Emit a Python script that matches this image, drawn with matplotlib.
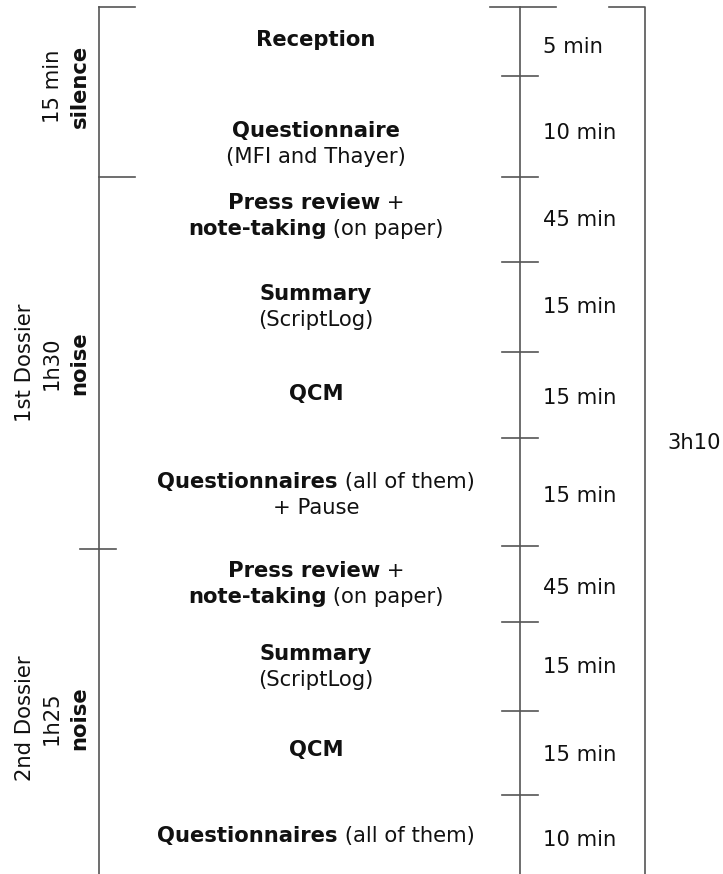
"""
Session timeline of the experiment: phases, activities and durations.
"""

import matplotlib.pyplot as plt
from matplotlib.offsetbox import AnnotationBbox, HPacker, TextArea, VPacker

# activities, each line is a list of (text, bold) pieces
activities = [
    [[('Reception', True)]],
    [[('Questionnaire', True)], [('(MFI and Thayer)', False)]],
    [[('Press review', True), (' +', False)],
     [('note-taking', True), (' (on paper)', False)]],
    [[('Summary', True)], [('(ScriptLog)', False)]],
    [[('QCM', True)]],
    [[('Questionnaires', True), (' (all of them)', False)], [('+ Pause', False)]],
    [[('Press review', True), (' +', False)],
     [('note-taking', True), (' (on paper)', False)]],
    [[('Summary', True)], [('(ScriptLog)', False)]],
    [[('QCM', True)]],
    [[('Questionnaires', True), (' (all of them)', False)]],
]
durations = ['5 min', '10 min', '45 min', '15 min', '15 min',
             '15 min', '45 min', '15 min', '15 min', '10 min']
total = '3h10'

phase_names = [('15 min', 'silence'), ('1st Dossier', '1h30', 'noise'),
               ('2nd Dossier', '1h25', 'noise')]

# layout (pixel units of the figure)
row_bounds = [7, 76, 177, 262, 352, 438, 546, 622, 711, 795, 874]
act_y = [40, 144, 216, 307, 394, 495, 584, 667, 750, 836]
dur_y = [47, 133, 220, 307, 398, 496, 588, 667, 755, 840]
phase_bounds = [7, 177, 549, 874]
phase_y = [86, 363, 718]

W, H = 723, 874
LC = '#555555'
TC = '#111111'
FS = 15.2

fig = plt.figure(figsize=(W / 100, H / 100), dpi=100)
ax = fig.add_axes([0, 0, 1, 1])
ax.set_xlim(0, W)
ax.set_ylim(H, 0)
ax.axis('off')

# left phase axis
ax.plot([99, 99], [phase_bounds[0], phase_bounds[-1]], color=LC, lw=1.2)
for i, b in enumerate(phase_bounds[:-1]):
    if i < 2:
        ax.plot([99, 135], [b, b], color=LC, lw=1.2)
    else:
        ax.plot([80, 116], [b, b], color=LC, lw=1.2)

for names, y in zip(phase_names, phase_y):
    lines = []
    for k, n in enumerate(names):
        bold = k == len(names) - 1
        lines.append(TextArea(n, textprops=dict(fontsize=FS, color=TC,
                                                weight='bold' if bold else 'normal',
                                                rotation=90)))
    box = HPacker(children=lines, align='center', pad=0, sep=5)
    ax.add_artist(AnnotationBbox(box, (66 if len(names) == 2 else 52, y),
                                 frameon=False, box_alignment=(0.5, 0.5)))

# middle duration axis
ax.plot([520, 520], [row_bounds[0], row_bounds[-1]], color=LC, lw=1.2)
for i, b in enumerate(row_bounds[:-1]):
    if i == 0:
        ax.plot([490, 556], [b, b], color=LC, lw=1.2)
    else:
        ax.plot([502, 538], [b, b], color=LC, lw=1.2)

for d, y in zip(durations, dur_y):
    ax.text(543, y, d, fontsize=FS, color=TC, ha='left', va='center')

# total bracket
ax.plot([609, 645, 645], [row_bounds[0], row_bounds[0], row_bounds[-1]],
        color=LC, lw=1.2)
ax.text(667, 443, total, fontsize=FS, color=TC, ha='left', va='center')

# activity labels
for act, y in zip(activities, act_y):
    rows = []
    for line in act:
        pieces = [TextArea(t, textprops=dict(fontsize=FS, color=TC,
                                             weight='bold' if b else 'normal'))
                  for t, b in line]
        rows.append(HPacker(children=pieces, align='baseline', pad=0, sep=0))
    box = VPacker(children=rows, align='center', pad=0, sep=5)
    ax.add_artist(AnnotationBbox(box, (316, y), frameon=False,
                                 box_alignment=(0.5, 0.5)))

fig.savefig('out.png', dpi=100)
